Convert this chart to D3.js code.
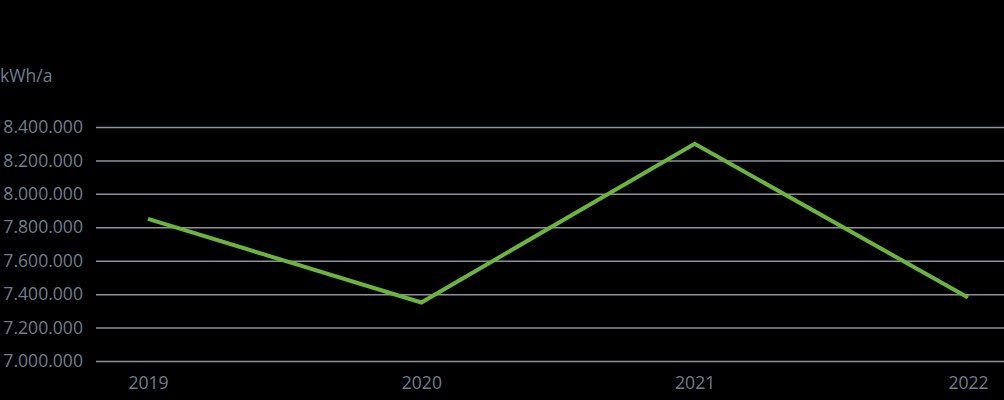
<!DOCTYPE html>
<html><head><meta charset="utf-8">
<script src="https://cdn.jsdelivr.net/npm/d3@7"></script>
<style>html,body{margin:0;padding:0;background:#000;}svg{display:block;}</style>
</head><body>
<script>
const years = ["2019", "2020", "2021", "2022"];
const values = [7850000, 7350000, 8300000, 7380000];
const yTicks = [7000000, 7200000, 7400000, 7600000, 7800000, 8000000, 8200000, 8400000];
const unitLabel = "kWh/a";

const W = 1004, H = 400;
const svg = d3.select("body").append("svg").attr("width", W).attr("height", H);
svg.append("rect").attr("width", W).attr("height", H).attr("fill", "#000");

const gridLeft = 96, gridRight = 1004;
const x = d3.scalePoint().domain(years).range([148, 968]);
const y = d3.scaleLinear().domain([7000000, 8400000]).range([361, 127]);
const fmt = v => d3.format(",")(v).replace(/,/g, ".");
const textColor = "#6f7e8e";
const font = "'Open Sans', sans-serif";
const fs = 17.6;

svg.append("text").attr("x", 0).attr("y", 82).text(unitLabel)
  .attr("fill", textColor).attr("font-family", font).attr("font-size", fs);

const yAxis = d3.axisLeft(y).tickValues(yTicks).tickFormat(fmt).tickSize(-(gridRight - gridLeft)).tickPadding(13);
const gy = svg.append("g").attr("transform", `translate(${gridLeft},0)`).call(yAxis);
gy.select(".domain").remove();
gy.selectAll(".tick line").attr("stroke", "#8b929c").attr("stroke-width", 1.5);
gy.selectAll(".tick text").attr("fill", textColor).attr("font-family", font).attr("font-size", fs);

const xAxis = d3.axisBottom(x).tickSize(0).tickPadding(0);
const gx = svg.append("g").attr("transform", `translate(0,376)`).call(xAxis);
gx.select(".domain").remove();
gx.selectAll(".tick text").attr("fill", textColor).attr("font-family", font).attr("font-size", fs).attr("dy", "0.71em");

const line = d3.line().x((d, i) => x(years[i])).y(d => y(d));
svg.append("path").datum(values).attr("d", line).attr("fill", "none")
  .attr("stroke", "#6cb33f").attr("stroke-width", 4).attr("stroke-linejoin", "miter");
</script>
</body></html>
